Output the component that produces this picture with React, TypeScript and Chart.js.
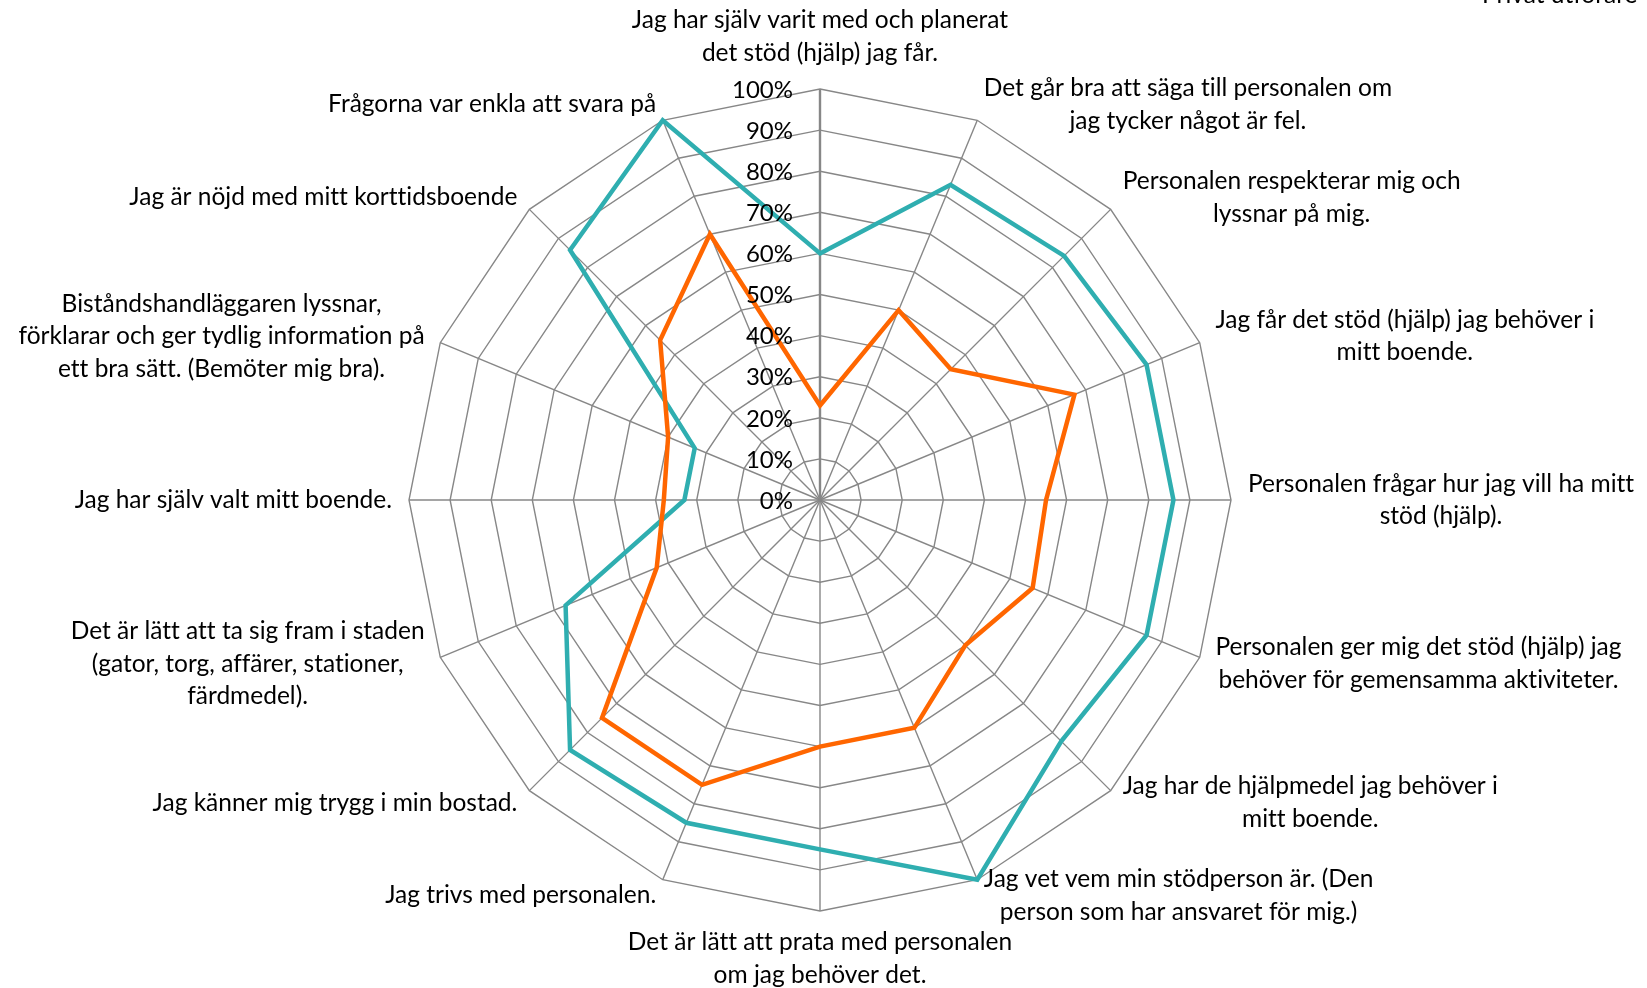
import React, { useEffect, useRef } from "react";
import { Chart, registerables } from "chart.js";

Chart.register(...registerables);

const categories: string[][] = [
  ["Jag har själv varit med och planerat", "det stöd (hjälp) jag får."],
  ["Det går bra att säga till personalen om", "jag tycker något är fel."],
  ["Personalen respekterar mig och", "lyssnar på mig."],
  ["Jag får det stöd (hjälp) jag behöver i", "mitt boende."],
  ["Personalen frågar hur jag vill ha mitt", "stöd (hjälp)."],
  ["Personalen ger mig det stöd (hjälp) jag", "behöver för gemensamma aktiviteter."],
  ["Jag har de hjälpmedel jag behöver i", "mitt boende."],
  ["Jag vet vem min stödperson är. (Den", "person som har ansvaret för mig.)"],
  ["Det är lätt att prata med personalen", "om jag behöver det."],
  ["Jag trivs med personalen."],
  ["Jag känner mig trygg i min bostad."],
  ["Det är lätt att ta sig fram i staden", "(gator, torg, affärer, stationer,", "färdmedel)."],
  ["Jag har själv valt mitt boende."],
  ["Biståndshandläggaren lyssnar,", "förklarar och ger tydlig information på", "ett bra sätt. (Bemöter mig bra)."],
  ["Jag är nöjd med mitt korttidsboende"],
  ["Frågorna var enkla att svara på"],
];

const tealValues: number[] = [60, 83, 84, 86, 86, 86, 83, 100, 85, 85, 86, 67, 33, 33, 86, 100];
const orangeValues: number[] = [23, 50, 45, 67, 55, 56, 50, 60, 60, 75, 75, 43, 38, 40, 55, 70];

const tickLabels: string[] = ["0%", "10%", "20%", "30%", "40%", "50%", "60%", "70%", "80%", "90%", "100%"];
const seriesNames: string[] = ["Privat utförare", "Kommunal utförare"];
const legendRemnant = "Privat utförare";

const FONT_FAMILY = "Lato, 'Open Sans', sans-serif";
const FONT_SIZE = 24.5;
const TICK_FONT_SIZE = 24;
const LINE_H = 32.6;
const TEAL = "#2FAEB0";
const ORANGE = "#FF6600";
const GRID = "#878787";

const labelPlugin = {
  id: "excelLabels",
  afterDraw(chart: any) {
    const scale = chart.scales.r;
    const ctx = chart.ctx as any;
    ctx.save();
    try {
      ctx.textRendering = "optimizeSpeed";
    } catch (e) {
      /* ignore */
    }
    ctx.fillStyle = "#000";
    ctx.textBaseline = "middle";

    // tick labels, left of the vertical axis
    ctx.font = `${TICK_FONT_SIZE}px ${FONT_FAMILY}`;
    ctx.textAlign = "right";
    scale.ticks.forEach((t: any, idx: number) => {
      const d = scale.getDistanceFromCenterForValue(t.value);
      const txt = tickLabels[idx] ?? `${t.value}%`;
      ctx.fillText(txt, scale.xCenter - 27, scale.yCenter - d + 1);
    });

    // category labels
    ctx.font = `${FONT_SIZE}px ${FONT_FAMILY}`;
    const labels = chart.data.labels as string[][];
    const n = labels.length;
    const R = scale.drawingArea;
    for (let i = 0; i < n; i++) {
      const lines = labels[i];
      const p = scale.getPointPosition(i, R + 17);
      const maxW = Math.max(...lines.map((l) => ctx.measureText(l).width));
      const k = lines.length;
      const deg = (i * 360) / n;
      let cx: number;
      let firstY: number;
      if (deg === 0) {
        cx = p.x;
        firstY = p.y - 19 - (k - 1) * LINE_H;
      } else if (deg === 180) {
        cx = p.x;
        firstY = p.y + 14;
      } else if (deg < 180) {
        cx = p.x + maxW / 2;
        firstY = p.y - ((k - 1) * LINE_H) / 2;
      } else {
        cx = p.x - maxW / 2;
        firstY = p.y - ((k - 1) * LINE_H) / 2;
      }
      ctx.textAlign = "center";
      lines.forEach((l: string, j: number) => ctx.fillText(l, cx, firstY + j * LINE_H));
    }

    // legend entry cut off at the top edge
    ctx.textAlign = "left";
    ctx.textBaseline = "alphabetic";
    ctx.fillText(legendRemnant, 1482, 2.5);
    ctx.restore();
  },
};

export default function App() {
  const canvasRef = useRef<HTMLCanvasElement | null>(null);

  useEffect(() => {
    document.body.style.margin = "0";
    const canvas = canvasRef.current;
    if (!canvas) return;
    const chart = new Chart(canvas, {
      type: "radar",
      data: {
        labels: categories,
        datasets: [
          {
            label: seriesNames[0],
            data: orangeValues,
            borderColor: ORANGE,
            backgroundColor: ORANGE,
            borderWidth: 4.5,
            pointRadius: 0,
            pointHoverRadius: 0,
            fill: false,
            tension: 0,
            borderJoinStyle: "miter",
          },
          {
            label: seriesNames[1],
            data: tealValues,
            borderColor: TEAL,
            backgroundColor: TEAL,
            borderWidth: 4.5,
            pointRadius: 0,
            pointHoverRadius: 0,
            fill: false,
            tension: 0,
            borderJoinStyle: "miter",
          },
        ],
      },
      options: {
        responsive: false,
        devicePixelRatio: 1,
        animation: false,
        layout: { padding: { top: 89, bottom: 77, left: 400, right: 407 } },
        plugins: {
          legend: { display: false },
          tooltip: { enabled: false },
        },
        scales: {
          r: {
            min: 0,
            max: 100,
            beginAtZero: true,
            ticks: { stepSize: 10, display: false },
            grid: { color: GRID, lineWidth: 1.4, circular: false },
            angleLines: {
              display: true,
              color: GRID,
              lineWidth: (c: any) => (c.index === 0 ? 2.4 : 1.4),
            },
            pointLabels: { display: false },
          },
        },
      },
      plugins: [labelPlugin],
    });
    return () => chart.destroy();
  }, []);

  return (
    <div style={{ position: "fixed", left: 0, top: 0, width: 1647, height: 988, background: "#fff" }}>
      <canvas ref={canvasRef} width={1647} height={988} style={{ display: "block" }} />
    </div>
  );
}
